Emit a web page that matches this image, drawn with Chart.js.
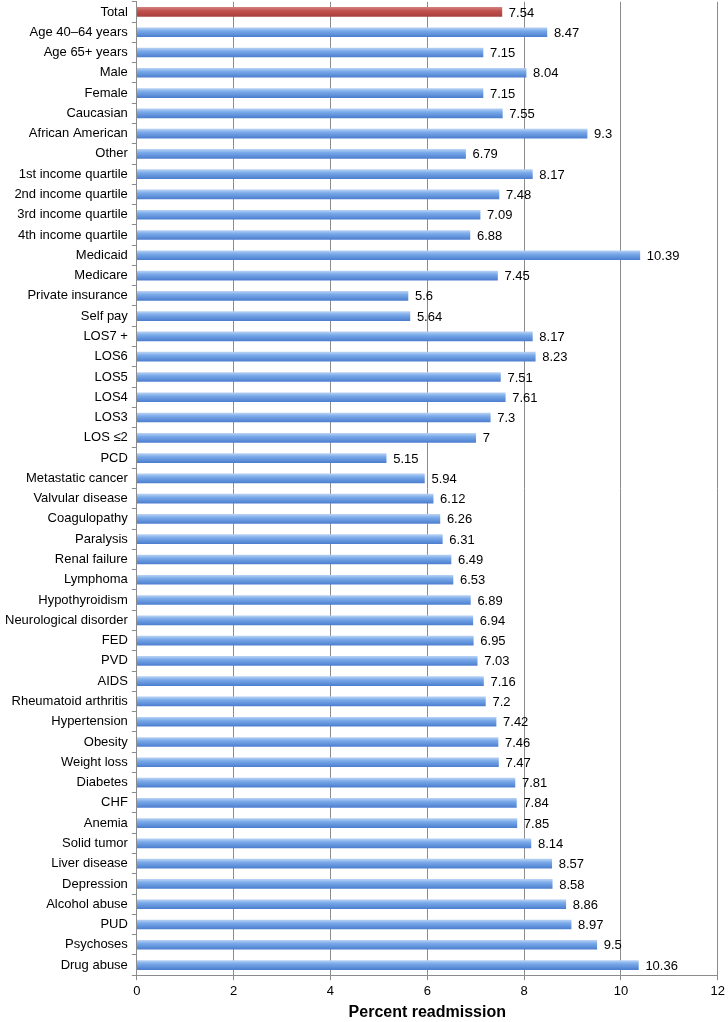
<!DOCTYPE html>
<html>
<head>
<meta charset="utf-8">
<script src="https://cdn.jsdelivr.net/npm/chart.js@4"></script>
<style>
  body { margin: 0; background: #fff; }
  #wrap { width: 728px; height: 1022px; position: relative; overflow: hidden; }
  #inner { position: absolute; left: 0; top: -10px; width: 728px; height: 1032px; }
</style>
</head>
<body>
<div id="wrap"><div id="inner"><canvas id="chart"></canvas></div></div>
<script>
const categories = [
  'Total', 'Age 40\u201364 years', 'Age 65+ years', 'Male', 'Female', 'Caucasian',
  'African American', 'Other', '1st income quartile', '2nd income quartile',
  '3rd income quartile', '4th income quartile', 'Medicaid', 'Medicare',
  'Private insurance', 'Self pay', 'LOS7 +', 'LOS6', 'LOS5', 'LOS4', 'LOS3',
  'LOS \u22642', 'PCD', 'Metastatic cancer', 'Valvular disease', 'Coagulopathy',
  'Paralysis', 'Renal failure', 'Lymphoma', 'Hypothyroidism',
  'Neurological disorder', 'FED', 'PVD', 'AIDS', 'Rheumatoid arthritis',
  'Hypertension', 'Obesity', 'Weight loss', 'Diabetes', 'CHF', 'Anemia',
  'Solid tumor', 'Liver disease', 'Depression', 'Alcohol abuse', 'PUD',
  'Psychoses', 'Drug abuse'
];
const readmission = [
  7.54, 8.47, 7.15, 8.04, 7.15, 7.55,
  9.3, 6.79, 8.17, 7.48,
  7.09, 6.88, 10.39, 7.45,
  5.6, 5.64, 8.17, 8.23, 7.51, 7.61, 7.3,
  7, 5.15, 5.94, 6.12, 6.26,
  6.31, 6.49, 6.53, 6.89,
  6.94, 6.95, 7.03, 7.16, 7.2,
  7.42, 7.46, 7.47, 7.81, 7.84, 7.85,
  8.14, 8.57, 8.58, 8.86, 8.97,
  9.5, 10.36
];
const xTicks = [0, 2, 4, 6, 8, 10, 12];

const FONT = "'Liberation Sans', Arial, sans-serif";

function barFill(c) {
  const chart = c.chart;
  const red = c.dataIndex === 0;
  if (!chart.chartArea || !chart.scales.y) return red ? '#c0504d' : '#6a9de4';
  const y = chart.scales.y.getPixelForValue(c.dataIndex);
  const g = chart.ctx.createLinearGradient(0, y - 4.5, 0, y + 4.5);
  if (red) {
    g.addColorStop(0, '#d27d7b');
    g.addColorStop(0.4, '#c0504d');
    g.addColorStop(1, '#a8403d');
  } else {
    g.addColorStop(0, '#b5d0f4');
    g.addColorStop(0.35, '#7aaae9');
    g.addColorStop(1, '#4d7fd0');
  }
  return g;
}

const valueLabels = {
  id: 'valueLabels',
  afterDatasetsDraw(chart) {
    const ctx = chart.ctx;
    const meta = chart.getDatasetMeta(0);
    ctx.save();
    ctx.font = '13px ' + FONT;
    ctx.fillStyle = '#000';
    ctx.textAlign = 'left';
    ctx.textBaseline = 'middle';
    meta.data.forEach((bar, i) => {
      ctx.fillText(String(readmission[i]), bar.x + 7, bar.y + 1);
    });
    ctx.restore();
  }
};

new Chart(document.getElementById('chart'), {
  type: 'bar',
  data: {
    labels: categories,
    datasets: [{
      data: readmission,
      backgroundColor: barFill,
      borderWidth: 0,
      barThickness: 9
    }]
  },
  options: {
    indexAxis: 'y',
    responsive: true,
    maintainAspectRatio: false,
    animation: false,
    layout: { padding: { left: 1, right: 7, top: 0, bottom: 0 } },
    plugins: {
      legend: { display: false },
      tooltip: { enabled: false }
    },
    scales: {
      x: {
        min: 0,
        max: 12,
        afterBuildTicks(scale) { scale.ticks = xTicks.map(v => ({ value: v })); },
        grid: { color: '#8c8c8c', lineWidth: 1, tickLength: 5 },
        border: { color: '#8c8c8c' },
        ticks: { color: '#000', font: { family: FONT, size: 13 }, padding: 3 },
        title: {
          display: true,
          text: 'Percent readmission',
          color: '#000',
          font: { family: FONT, size: 16, weight: 'bold' },
          padding: { top: 1, bottom: 0 }
        }
      },
      y: {
        grid: { offset: true, drawOnChartArea: false, color: '#8c8c8c', tickLength: 5 },
        border: { color: '#8c8c8c' },
        ticks: { color: '#000', font: { family: FONT, size: 13 }, padding: 4, autoSkip: false }
      }
    }
  },
  plugins: [valueLabels]
});
</script>
</body>
</html>
